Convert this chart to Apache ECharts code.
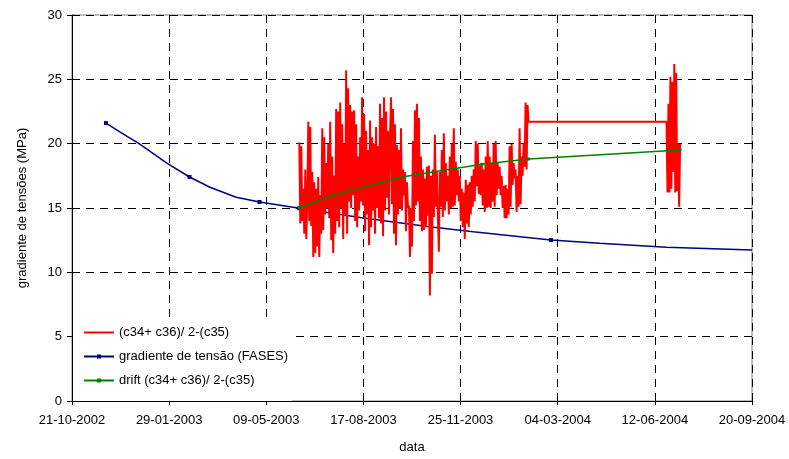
<!DOCTYPE html>
<html>
<head>
<meta charset="utf-8">
<script src="https://cdn.jsdelivr.net/npm/echarts@6/dist/echarts.min.js"></script>
<style>html,body{margin:0;padding:0;background:#fff;}#chart{width:789px;height:459px;}</style>
</head>
<body>
<div id="chart"></div>
<script>
// ---- data ----
const baseDate = '2002-10-21';
const xTickStepDays = 100;
const xMaxDays = 700;

const seriesNames = ['(c34+ c36)/ 2-(c35)', 'gradiente de tensão (FASES)', 'drift (c34+ c36)/ 2-(c35)'];

// blue: gradiente de tensão (FASES)
const blueDates = ['2002-11-25','2002-12-10','2002-12-29','2003-01-27','2003-02-19','2003-03-12','2003-04-08','2003-05-02',
  '2003-06-12','2003-08-17','2003-10-24','2003-12-08','2004-02-26','2004-04-16','2004-06-24','2004-09-20'];
const blueValues = [21.6,20.88,20.0,18.47,17.41,16.61,15.83,15.47,14.98,14.22,13.55,13.16,12.51,12.26,11.95,11.74];
const blueMarked = [1,0,0,0,1,0,0,1,1,0,0,0,1,0,0,0];

// green: drift
const greenDates = ['2003-06-12','2003-07-17','2003-09-27','2003-12-17','2004-02-03','2004-07-08'];
const greenValues = [15.02,16.01,17.43,18.40,18.81,19.51];

// red: (c34+ c36)/2-(c35), two measurement periods
const red1Start = '2003-06-12', red1End = '2004-02-03';
const red1Values = [
  20.1,13.8,19.8,14.0,16.5,13.0,18.0,12.6,15.5,21.7,14.0,21.3,13.6,17.8,11.2,17.0,11.5,16.5,12.0,17.4,11.2,16.0,13.0,21.2,13.3,
  20.5,14.5,18.5,15.0,20.0,14.2,21.7,12.5,19.0,11.5,17.5,13.0,22.7,14.0,22.5,13.5,23.2,15.0,21.5,12.6,
  20.0,14.5,25.7,13.0,24.3,15.5,23.0,15.0,22.5,16.0,22.6,14.0,21.5,13.5,19.0,14.8,20.5,15.5,23.6,15.2,22.3,13.2,21.0,14.5,
  19.5,12.1,21.8,13.5,20.5,14.8,20.0,13.0,21.3,15.0,19.8,14.2,23.1,13.8,22.0,12.8,23.6,14.8,22.5,15.8,21.0,14.5,20.5,
  23.6,15.3,22.7,13.0,21.5,12.1,19.9,14.5,19.5,15.0,21.2,14.8,18.0,16.0,17.8,13.2,17.0,15.0,15.2,11.2,15.0,12.0,20.2,14.0,
  22.6,15.2,23.1,15.5,22.0,14.0,19.0,13.2,18.0,13.3,17.3,13.5,18.2,14.4,18.3,8.2,17.5,9.9,18.0,14.3,20.7,15.1,17.9,
  14.5,11.6,17.8,15.1,19.5,14.3,20.8,14.8,18.5,15.5,17.5,14.5,19.0,15.0,20.0,15.1,21.2,15.2,18.6,16.0,18.0,15.5,17.5,14.0,
  16.5,13.5,16.2,12.6,17.2,13.8,16.8,13.5,17.0,14.5,17.5,15.1,18.0,15.5,20.2,16.7,20.0,16.1,18.3,16.0,18.5,15.2,18.0,
  14.7,19.0,15.0,20.2,15.1,19.0,15.0,18.5,15.5,20.0,15.1,20.2,16.0,18.5,16.5,18.2,16.0,17.5,15.0,16.7,14.2,16.8,14.2,
  16.5,14.5,19.8,15.1,20.0,16.8,18.5,17.3,18.0,14.7,17.5,15.1,21.2,15.3,19.0,17.5,20.0,18.2,23.2,18.0,23.0,21.7
];
const red2Start = '2004-06-24', red2End = '2004-07-08';
const red2Values = [21.7,16.2,23.1,16.2,25.2,16.5,24.8,17.8,26.2,16.2,25.5,16.3,20.0,15.1,20.0];

const yMin = 0, yMax = 30, yStep = 5;

// ---- helpers ----
function dayOf(s){
  const p = s.split('-').map(Number);
  const b = baseDate.split('-').map(Number);
  return (Date.UTC(p[0],p[1]-1,p[2]) - Date.UTC(b[0],b[1]-1,b[2]))/864e5;
}
function fmtDay(v){
  const b = baseDate.split('-').map(Number);
  const d = new Date(Date.UTC(b[0],b[1]-1,b[2]) + Math.round(v)*864e5);
  const pad = n => (n<10?'0':'')+n;
  return pad(d.getUTCDate())+'-'+pad(d.getUTCMonth()+1)+'-'+d.getUTCFullYear();
}
function spread(start, end, vals){
  const a = dayOf(start), b = dayOf(end), n = vals.length;
  return vals.map((v,i)=>[a + (b-a)*i/(n-1), v]);
}
const redData = spread(red1Start, red1End, red1Values).concat(spread(red2Start, red2End, red2Values));
const blueData = blueDates.map((d,i)=> blueMarked[i] ? [dayOf(d), blueValues[i]] : {value:[dayOf(d), blueValues[i]], symbol:'none'});
const greenData = greenDates.map((d,i)=>[dayOf(d), greenValues[i]]);

const FONT = '"Liberation Sans", Arial, sans-serif';
const chart = echarts.init(document.getElementById('chart'), null, {renderer:'canvas'});
chart.setOption({
  animation:false,
  backgroundColor:'#fff',
  grid:{left:72, right:37, top:15, bottom:58, show:true, borderColor:'#808080', borderWidth:1, backgroundColor:'transparent'},
  legend:{
    orient:'vertical', left:73, top:317,
    data:[
      {name:seriesNames[0], itemStyle:{opacity:0}},
      {name:seriesNames[1]},
      {name:seriesNames[2]}
    ],
    backgroundColor:'#fff', padding:[9,4,14,10], itemGap:11,
    itemWidth:30, itemHeight:5,
    textStyle:{fontFamily:FONT, fontSize:13, color:'#000'}
  },
  xAxis:[{
    type:'value', min:0, max:xMaxDays, interval:xTickStepDays,
    name:'data', nameLocation:'middle', nameGap:40,
    nameTextStyle:{fontFamily:FONT, fontSize:13, color:'#000'},
    axisLine:{show:true, onZero:false, lineStyle:{color:'#000', width:1}},
    axisTick:{show:true, length:4, lineStyle:{color:'#000'}},
    axisLabel:{fontFamily:FONT, fontSize:13, color:'#000', margin:13, formatter:fmtDay, showMinLabel:true, showMaxLabel:true},
    splitLine:{show:true, lineStyle:{color:'#000', type:[8,6], width:1}}
  },{
    type:'value', position:'top', min:0, max:xMaxDays, interval:xTickStepDays,
    axisLine:{show:true, lineStyle:{color:'#000'}}, axisTick:{show:false}, axisLabel:{show:false}, splitLine:{show:false}
  }],
  yAxis:{
    type:'value', min:yMin, max:yMax, interval:yStep,
    name:'gradiente de tensões (MPa)', nameLocation:'middle', nameGap:43, nameRotate:90,
    nameTextStyle:{fontFamily:FONT, fontSize:13, color:'#000'},
    axisLine:{show:true, onZero:false, lineStyle:{color:'#000', width:1}},
    axisTick:{show:true, length:5, lineStyle:{color:'#000'}},
    axisLabel:{fontFamily:FONT, fontSize:13, color:'#000', margin:10},
    splitLine:{show:true, lineStyle:{color:'#000', type:[8,6], width:1}}
  },
  series:[
    {name:seriesNames[0], type:'line', data:redData, symbol:'none', lineStyle:{color:'#ff0000', width:2}, itemStyle:{color:'#ff0000'}, z:3},
    {name:seriesNames[1], type:'line', data:blueData, symbol:'rect', symbolSize:4, showSymbol:true, lineStyle:{color:'#000080', width:1.5}, itemStyle:{color:'#000080'}, z:2},
    {name:seriesNames[2], type:'line', data:greenData, symbol:'rect', symbolSize:3, lineStyle:{color:'#008000', width:1.5}, itemStyle:{color:'#008000'}, z:4}
  ]
});
</script>
</body>
</html>
